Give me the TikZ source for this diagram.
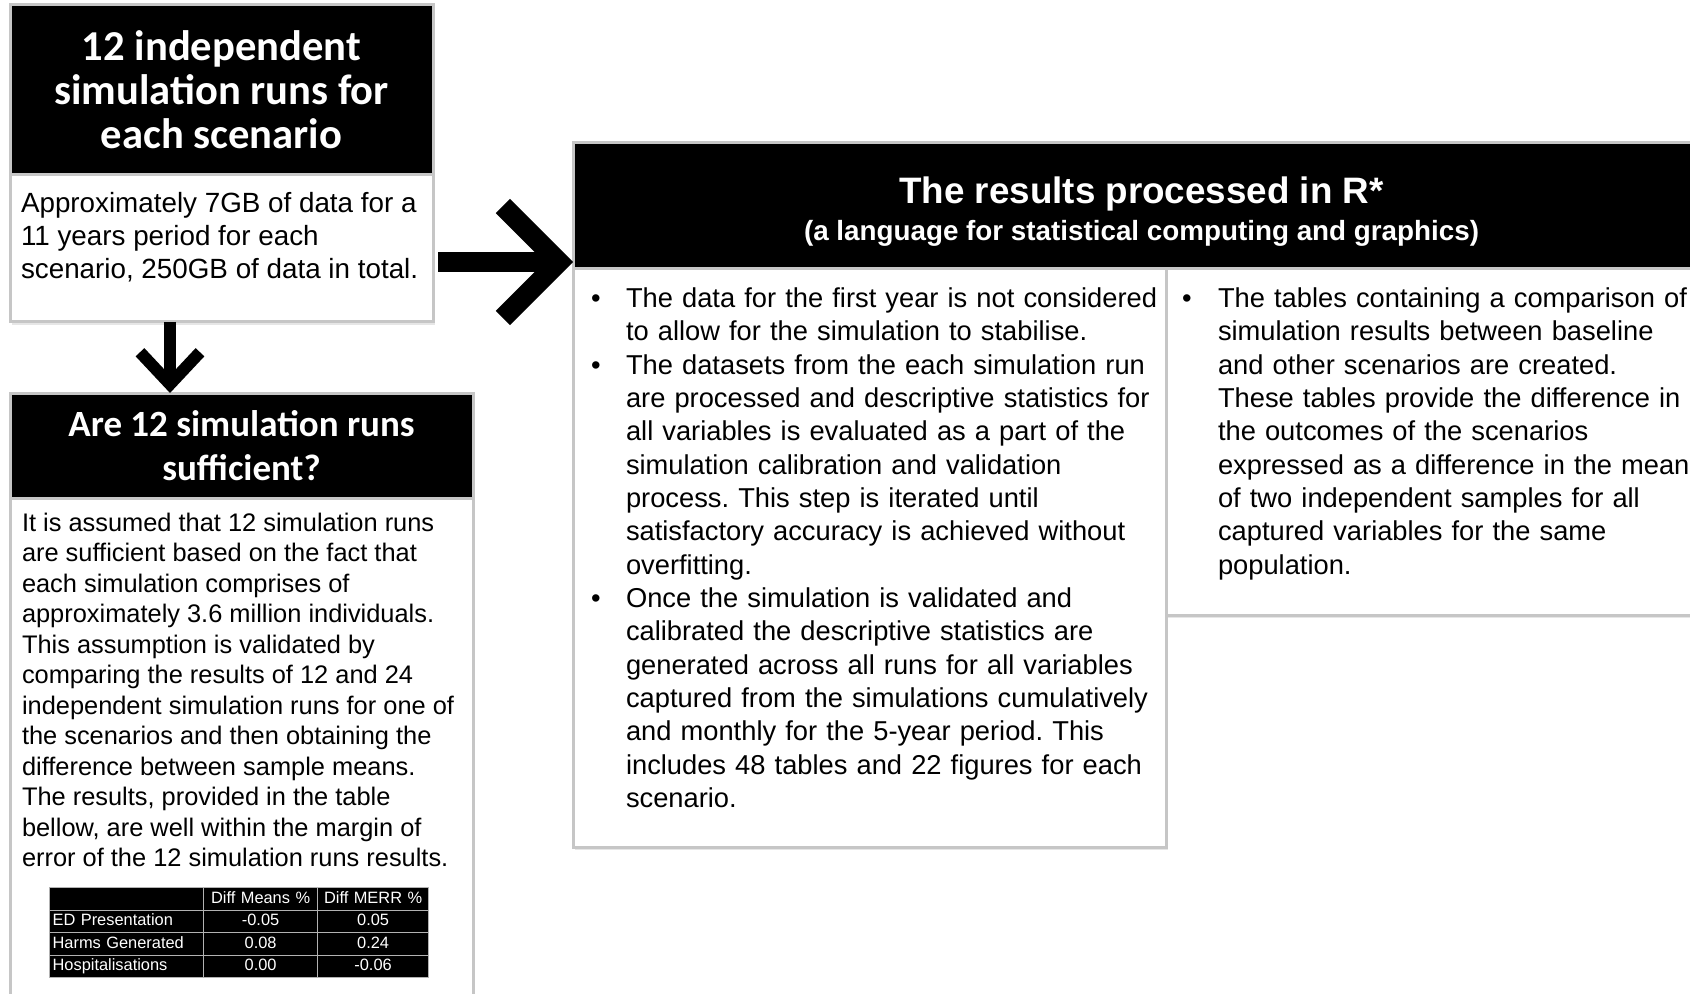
\documentclass[tikz,border=0pt]{standalone}
\usepackage{fontspec}
\setmainfont{Liberation Sans}
\newfontfamily\calibri{Carlito}
\usepackage{enumitem}
\usetikzlibrary{arrows.meta,positioning,shadows,calc,matrix}
\frenchspacing

\begin{document}
\begin{tikzpicture}[
  x=1pt, y=-1pt,
  every node/.style={rectangle,outer sep=0pt,inner sep=0pt},
  hdr/.style={fill=black,draw=gray!45,line width=1.5pt,text=white,align=center},
  bodybox/.style={fill=white,draw=gray!45,line width=1.5pt,
    drop shadow={shadow xshift=1pt,shadow yshift=-1.5pt,opacity=.2}},
  txt/.style={anchor=north west,align=left},
  bigarr/.style={line width=10pt,-{Straight Barb[length=28pt,width=56pt]}},
  smallarr/.style={line width=6pt,-{Straight Barb[length=16pt,width=30pt]}},
  cell/.style={fill=black,draw=gray!60,line width=0.6pt,text=white,inner xsep=1.5pt,
    font=\fontsize{8.2}{9}\selectfont,minimum height=11.25pt,text height=6pt,text depth=1.6pt},
]
\useasboundingbox (0,0) rectangle (845,497);

% Simulation runs
\node[hdr,minimum width=211.5pt,minimum height=85pt,
  font=\calibri\bfseries\fontsize{21.3}{22}\selectfont] (hdrRuns) at (110.75,45)
  {12 independent\\simulation runs for\\each scenario};
\node[bodybox,below=0pt of hdrRuns,minimum width=211.5pt,minimum height=73.5pt] (bodyRuns) {};
\node[txt,font=\fontsize{13.9}{16.5}\selectfont] (txtRuns) at (10.5,96)
  {Approximately 7GB of data for a\\11 years period for each\\scenario, 250GB of data in total.};

% Sufficiency check
\node[hdr,minimum width=231.5pt,minimum height=52.5pt,
  font=\calibri\bfseries\fontsize{18.5}{22}\selectfont] (hdrSuff) at (120.75,222.75)
  {Are 12 simulation runs\\sufficient?};
\node[bodybox,below=0pt of hdrSuff,minimum width=231.5pt,minimum height=260pt] (bodySuff) {};
\node[txt,font=\fontsize{12.7}{15.25}\selectfont] (txtSuff) at (11,256.5)
  {It is assumed that 12 simulation runs\\
   are sufficient based on the fact that\\
   each simulation comprises of\\
   approximately 3.6 million individuals.\\
   This assumption is validated by\\
   comparing the results of 12 and 24\\
   independent simulation runs for one of\\
   the scenarios and then obtaining the\\
   difference between sample means.\\
   The results, provided in the table\\
   bellow, are well within the margin of\\
   error of the 12 simulation runs results.};

\matrix[matrix of nodes,nodes in empty cells,anchor=north west,nodes={cell},
  column sep=-0.6pt,row sep=-0.6pt,
  column 1/.style={nodes={text width=74pt,align=left}},
  column 2/.style={nodes={text width=54pt,align=center}},
  column 3/.style={nodes={text width=52.5pt,align=center}}] (tbl) at (24.5,443.5) {
                  & Diff Means \% & Diff MERR \% \\
  ED Presentation & -0.05 & 0.05 \\
  Harms Generated & 0.08  & 0.24 \\
  Hospitalisations & 0.00 & -0.06 \\
};

% Processing in R
\node[hdr,minimum width=568.5pt,minimum height=63pt,
  font=\bfseries\fontsize{18.4}{18.4}\selectfont] (hdrR) at (570.75,103)
  {\rule{0pt}{19pt}The results processed in R*\\{\fontsize{13.9}{18.4}\selectfont(a language for statistical computing and graphics)}};
\node[bodybox,anchor=north west,minimum width=296.5pt,minimum height=289pt] (colA) at (hdrR.south west) {};
\node[bodybox,anchor=north west,minimum width=272pt,minimum height=173pt] (colB) at (colA.north east) {};

\node[txt,text width=300pt,font=\fontsize{13.65}{16.67}\selectfont] (txtA) at (295.5,137) {%
  \begin{itemize}[leftmargin=17.5pt,labelsep=0pt,labelwidth=17.5pt,align=left,
    label=\textbullet,itemsep=0pt,topsep=0pt,parsep=0pt,partopsep=0pt]
  \item The data for the first year is not considered\\
    to allow for the simulation to stabilise.
  \item The datasets from the each simulation run\\
    are processed and descriptive statistics for\\
    all variables is evaluated as a part of the\\
    simulation calibration and validation\\
    process. This step is iterated until\\
    satisfactory accuracy is achieved without\\
    overfitting.
  \item Once the simulation is validated and\\
    calibrated the descriptive statistics are\\
    generated across all runs for all variables\\
    captured from the simulations cumulatively\\
    and monthly for the 5-year period. This\\
    includes 48 tables and 22 figures for each\\
    scenario.
  \end{itemize}};
\node[txt,text width=290pt,font=\fontsize{13.65}{16.67}\selectfont] (txtB) at (591,137) {%
  \begin{itemize}[leftmargin=18pt,labelsep=0pt,labelwidth=18pt,align=left,
    label=\textbullet,itemsep=0pt,topsep=0pt,parsep=0pt,partopsep=0pt]
  \item The tables containing a comparison of\\
    simulation results between baseline\\
    and other scenarios are created.\\
    These tables provide the difference in\\
    the outcomes of the scenarios\\
    expressed as a difference in the mean\\
    of two independent samples for all\\
    captured variables for the same\\
    population.
  \end{itemize}};

% Arrows
\coordinate (tipR) at ($(hdrR.south west)+(0,-3.5)$);
\draw[bigarr] ($(bodyRuns.east |- tipR)+(2.5,0)$) -- (tipR);
\draw[smallarr] ($(bodyRuns.south west)+(80,0)$) -- ($(bodyRuns.south west |- hdrSuff.north)+(80,0)$);
\end{tikzpicture}
\end{document}
